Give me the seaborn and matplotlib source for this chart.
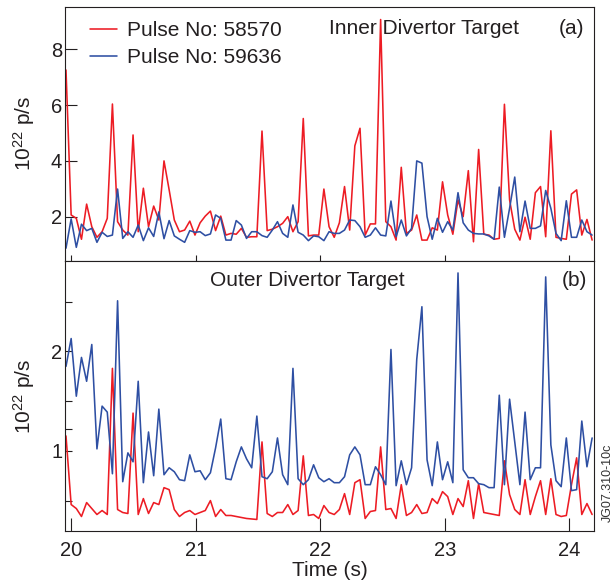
import numpy as np
import pandas as pd
import matplotlib
matplotlib.use("Agg")
import matplotlib.pyplot as plt
import seaborn as sns

# ---------------- data ----------------
T0 = 19.956
DT = 0.04143
N = 103
time = T0 + DT * np.arange(N)

pulses = ["Pulse No: 58570", "Pulse No: 59636"]

inner_58570 = [7.26, 2.06, 1.94, 1.19, 2.45, 1.64, 1.26, 1.46, 1.94, 6.04,
               1.82, 1.52, 1.34, 4.93, 1.46, 3.02, 1.64, 2.38, 1.88, 4.00,
               2.96, 1.88, 1.46, 1.52, 1.84, 1.34, 1.78, 2.02, 2.20, 1.50,
               2.02, 1.34, 1.40, 1.37, 1.58, 1.26, 1.28, 1.28, 5.07, 1.50,
               1.55, 1.64, 1.76, 2.00, 1.46, 1.82, 5.52, 1.31, 1.34, 1.34,
               2.99, 1.64, 1.26, 1.78, 3.08, 1.52, 4.54, 5.17, 1.34, 1.74,
               1.74, 9.07, 1.82, 1.64, 1.16, 3.77, 1.40, 1.52, 2.06, 1.16,
               1.16, 1.60, 1.52, 3.25, 2.06, 1.37, 2.60, 2.00, 3.65, 1.10,
               4.41, 1.37, 1.34, 1.19, 1.22, 6.03, 2.60, 1.55, 1.16, 1.98,
               1.19, 2.86, 3.08, 1.28, 5.08, 1.26, 1.22, 1.19, 2.81, 2.96,
               1.34, 1.90, 1.16]

inner_59636 = [0.87, 1.92, 0.90, 1.73, 1.50, 1.58, 1.08, 1.44, 1.29, 1.34,
               2.99, 1.22, 1.46, 1.26, 1.70, 1.14, 1.60, 1.29, 2.17, 1.21,
               1.86, 1.31, 1.19, 1.08, 1.50, 1.44, 1.46, 1.32, 1.38, 2.06,
               1.94, 1.16, 1.16, 1.86, 1.70, 1.22, 1.46, 1.46, 1.32, 1.26,
               1.52, 1.82, 1.40, 1.26, 2.42, 1.44, 1.34, 1.14, 1.31, 1.28,
               1.14, 1.46, 1.40, 1.40, 1.52, 1.88, 1.86, 1.64, 1.26, 1.34,
               1.60, 1.34, 1.31, 2.56, 1.28, 1.88, 1.31, 1.58, 4.00, 3.92,
               2.00, 1.19, 1.94, 1.44, 1.82, 1.52, 2.86, 1.78, 1.52, 1.40,
               1.38, 1.38, 1.31, 1.19, 3.06, 1.26, 2.30, 3.42, 1.46, 2.56,
               1.58, 1.58, 1.67, 2.94, 2.30, 1.40, 1.14, 2.57, 1.26, 1.26,
               1.88, 1.46, 1.34]

outer_58570 = [1.15, 0.46, 0.42, 0.34, 0.48, 0.42, 0.36, 0.40, 0.36, 1.83,
               0.41, 0.38, 0.37, 1.38, 0.36, 0.52, 0.37, 0.48, 0.46, 0.63,
               0.61, 0.41, 0.34, 0.38, 0.40, 0.36, 0.38, 0.40, 0.50, 0.34,
               0.41, 0.35, 0.35, 0.34, 0.33, 0.32, 0.315, 0.31, 1.09, 0.37,
               0.34, 0.38, 0.38, 0.46, 0.36, 0.40, 0.95, 0.35, 0.36, 0.32,
               0.45, 0.38, 0.36, 0.41, 0.57, 0.36, 0.68, 0.71, 0.32, 0.39,
               0.40, 1.04, 0.41, 0.42, 0.32, 0.66, 0.35, 0.38, 0.46, 0.37,
               0.38, 0.52, 0.47, 0.59, 0.54, 0.36, 0.52, 0.44, 0.70, 0.32,
               0.67, 0.38, 0.37, 0.36, 0.35, 0.90, 0.56, 0.41, 0.36, 0.71,
               0.36, 0.54, 0.70, 0.36, 0.72, 0.36, 0.34, 0.35, 0.66, 0.93,
               0.36, 0.47, 0.36]

outer_59636 = [1.85, 2.13, 1.55, 1.94, 1.70, 2.07, 1.02, 1.45, 1.39, 0.77,
               2.51, 0.69, 0.98, 0.89, 1.70, 0.68, 1.19, 0.75, 1.42, 0.76,
               0.83, 0.79, 0.71, 0.70, 0.96, 0.79, 0.80, 0.71, 0.78, 1.03,
               1.32, 0.72, 0.71, 0.89, 1.04, 0.92, 0.83, 1.35, 0.74, 0.72,
               0.79, 1.13, 0.76, 0.66, 1.83, 0.72, 0.66, 0.71, 0.86, 0.73,
               0.69, 0.72, 0.68, 0.68, 0.74, 0.96, 1.04, 0.96, 0.66, 0.66,
               0.84, 0.76, 0.66, 2.02, 0.65, 0.90, 0.66, 0.83, 1.92, 2.45,
               0.91, 0.65, 1.09, 0.71, 0.89, 0.68, 2.79, 0.81, 0.73, 0.73,
               0.67, 0.66, 0.63, 0.63, 1.56, 0.66, 1.52, 1.09, 0.66, 1.39,
               0.71, 0.83, 0.83, 2.75, 1.06, 0.70, 0.64, 1.13, 0.60, 0.61,
               1.30, 0.84, 1.13]

xticks = [20, 21, 22, 23, 24]
top_yticks = [2, 4, 6, 8]
bottom_yticks = [1, 2]
bottom_minor_yticks = [0.5, 1.22, 1.5, 2.5]

# ---------------- style ----------------
sns.set_style("ticks")
plt.rcParams["font.family"] = ["Liberation Sans", "DejaVu Sans"]
plt.rcParams["mathtext.default"] = "regular"
INK = "#231f20"
RED = "#ed1c24"
BLUE = "#2e4fa3"
palette = {pulses[0]: RED, pulses[1]: BLUE}
FS = 15
TFS = 14.5


def make_df(a, b):
    return pd.DataFrame({
        "time": np.concatenate([time, time]),
        "value": np.array(a + b, dtype=float),
        "pulse": [pulses[0]] * len(a) + [pulses[1]] * len(b),
    })


df_top = make_df(inner_58570, inner_59636)
df_bot = make_df(outer_58570, outer_59636)

fig = plt.figure(figsize=(6.16, 5.84), dpi=100)
L, R = 65 / 616, 594 / 616
ax1 = fig.add_axes([L, 1 - 261 / 584, R - L, (261 - 6.7) / 584])
ax2 = fig.add_axes([L, 1 - 531 / 584, R - L, (531 - 261) / 584])

for ax, df in ((ax1, df_top), (ax2, df_bot)):
    sns.lineplot(data=df, x="time", y="value", hue="pulse", palette=palette,
                 hue_order=pulses, linewidth=1.15, ax=ax, legend=(ax is ax1),
                 estimator=None, sort=False)
    ax.set_xlim(19.948, 24.197)
    ax.set_xticks(xticks)
    for s in ax.spines.values():
        s.set_color(INK)
        s.set_linewidth(0.8)
        s.set_visible(True)
    ax.set_xlabel("")
    ax.set_ylabel("10$^{22}$ p/s", fontsize=FS, color=INK)
    ax.yaxis.set_label_coords(-0.053, 0.5)

ax1.set_ylim(0.41, 9.53)
ax1.set_yticks(top_yticks)
ax1.tick_params(axis="y", direction="in", length=8.5, width=0.8, color=INK,
                labelsize=TFS, labelcolor=INK, pad=2)
ax1.tick_params(axis="x", direction="in", length=4.3, width=0.8, color=INK,
                labelbottom=False)

ax2.set_ylim(0.194, 2.91)
ax2.set_yticks(bottom_yticks)
ax2.set_yticks(bottom_minor_yticks, minor=True)
ax2.tick_params(axis="y", which="both", direction="in", length=5, width=0.8,
                color=INK, labelsize=TFS, labelcolor=INK, pad=2)
ax2.tick_params(axis="x", direction="in", length=9.4, width=0.8, color=INK,
                labelsize=TFS, labelcolor=INK, pad=7)
ax2.set_xticklabels([str(v) for v in xticks])
ax2.set_xlabel("Time (s)", fontsize=FS, color=INK)
ax2.xaxis.set_label_coords(0.5, -0.148)
ax2.xaxis.label.set_va("center")

leg = ax1.legend(loc="upper left", bbox_to_anchor=(0.047, 0.942), frameon=False,
                 fontsize=FS, handlelength=1.3, handletextpad=0.48,
                 labelspacing=0.36, borderpad=0, borderaxespad=0)
for t in leg.get_texts():
    t.set_color(INK)

ax1.text(0.499, 0.915, "Inner Divertor Target", transform=ax1.transAxes,
         fontsize=FS, color=INK, ha="left", va="center")
ax1.text(0.934, 0.915, "(a)", transform=ax1.transAxes, fontsize=FS, color=INK,
         ha="left", va="center")
ax2.text(0.274, 0.926, "Outer Divertor Target", transform=ax2.transAxes,
         fontsize=FS, color=INK, ha="left", va="center")
ax2.text(0.939, 0.926, "(b)", transform=ax2.transAxes, fontsize=FS, color=INK,
         ha="left", va="center")

fig.text(607.5 / 616, 1 - 482.5 / 584, "JG07.310-10c", rotation=90, fontsize=9,
         color="#333333", ha="center", va="center")

fig.savefig("out.png", dpi=100)
